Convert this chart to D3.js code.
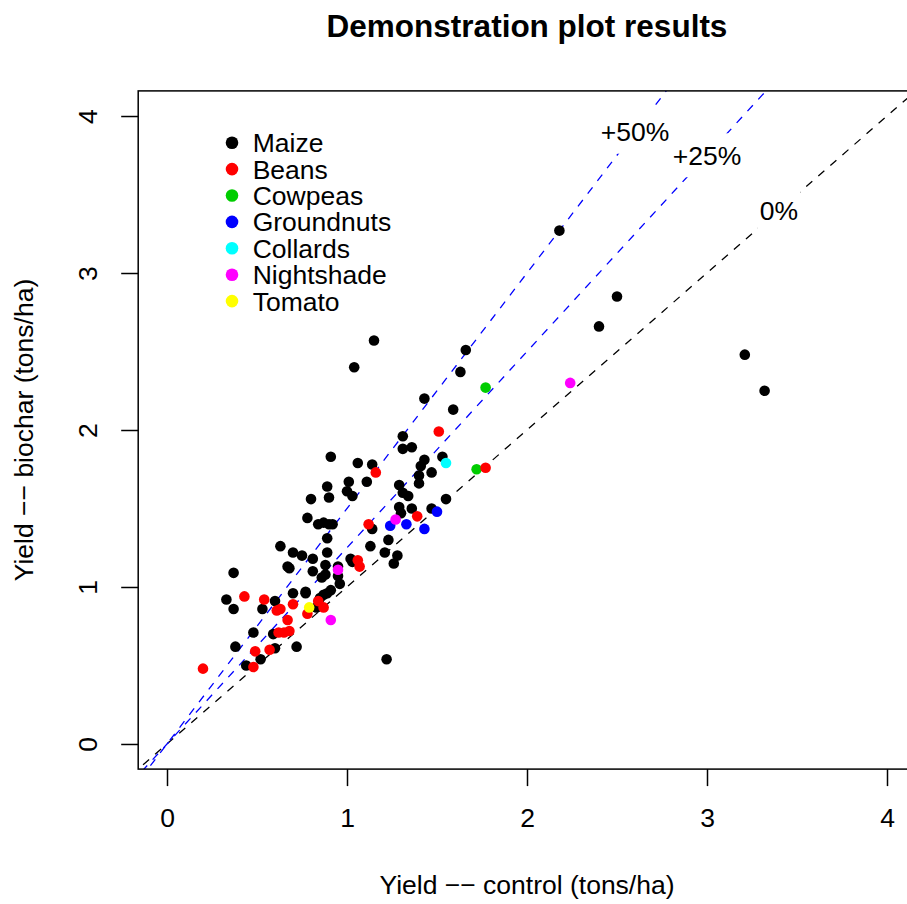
<!DOCTYPE html>
<html>
<head>
<meta charset="utf-8">
<script src="https://cdn.jsdelivr.net/npm/d3@7"></script>
<style>
  html, body { margin: 0; padding: 0; background: #fff; }
  svg { display: block; font-family: "Liberation Sans", Arial, Helvetica, sans-serif; }
</style>
</head>
<body>
<svg id="chart" width="907" height="904"></svg>
<script>
// Crop groups, legend order and colours
const crops = ["Maize", "Beans", "Cowpeas", "Groundnuts", "Collards", "Nightshade", "Tomato"];
const cropColors = ["#000000", "#ff0000", "#00cd00", "#0000ff", "#00ffff", "#ff00ff", "#ffff00"];

// Yield pairs [control, biochar] in tons/ha for each crop
const maize = [
  [2.18, 3.27], [2.50, 2.85], [2.40, 2.66], [3.21, 2.48], [3.32, 2.25],
  [1.15, 2.57], [1.04, 2.40], [1.66, 2.51], [1.63, 2.37], [1.43, 2.20],
  [1.59, 2.13], [1.31, 1.96], [1.31, 1.88], [1.36, 1.89], [1.53, 1.83],
  [1.43, 1.81], [1.41, 1.77], [1.47, 1.73], [1.40, 1.71], [1.40, 1.66],
  [1.14, 1.78], [1.06, 1.79], [1.11, 1.67], [1.29, 1.65], [1.31, 1.60],
  [1.34, 1.58], [1.55, 1.56], [1.29, 1.51], [1.30, 1.47], [1.36, 1.50],
  [1.47, 1.50], [1.14, 1.37], [1.23, 1.30], [1.13, 1.26], [1.21, 1.22],
  [1.28, 1.20], [1.26, 1.15], [0.91, 1.83], [1.01, 1.67], [0.89, 1.64],
  [1.00, 1.61], [1.03, 1.58], [0.90, 1.57], [0.80, 1.56], [0.78, 1.44],
  [0.87, 1.41], [0.84, 1.40], [0.90, 1.40], [0.92, 1.40], [0.89, 1.31],
  [0.63, 1.26], [0.70, 1.22], [0.75, 1.20], [0.89, 1.22], [0.67, 1.13],
  [0.68, 1.12], [0.81, 1.18], [0.88, 1.14], [0.95, 1.13], [1.02, 1.18],
  [1.03, 1.16], [0.81, 1.10], [0.88, 1.08], [0.95, 1.07], [0.96, 1.02],
  [0.86, 1.06], [0.37, 1.09], [0.77, 0.97], [0.33, 0.92], [0.37, 0.86],
  [0.53, 0.86], [0.60, 0.91], [0.70, 0.96], [0.77, 0.96], [0.83, 0.87],
  [0.87, 0.95], [0.91, 0.98], [0.85, 0.93], [0.89, 0.96], [0.48, 0.71],
  [0.59, 0.70], [0.38, 0.62], [0.60, 0.61], [0.72, 0.62], [0.52, 0.54],
  [0.44, 0.50], [1.22, 0.54]
];
const beans = [
  [1.51, 1.99], [1.16, 1.73], [1.39, 1.45], [1.12, 1.40], [1.06, 1.17],
  [1.07, 1.13], [0.43, 0.94], [0.54, 0.92], [0.61, 0.85], [0.63, 0.86],
  [0.70, 0.89], [0.78, 0.83], [0.67, 0.79], [0.62, 0.71], [0.65, 0.71],
  [0.68, 0.72], [0.49, 0.59], [0.57, 0.60], [0.48, 0.49], [0.20, 0.48],
  [0.87, 0.87], [0.84, 0.91]
];
const cowpeas = [[1.77, 2.27], [1.72, 1.75]];
const beansLate = [[1.77, 1.76]];
const groundnuts = [[1.50, 1.48], [1.24, 1.39], [1.33, 1.40], [1.43, 1.37]];
const collards = [[1.55, 1.79]];
const nightshade = [[2.24, 2.30], [1.27, 1.43], [0.95, 1.11], [0.91, 0.79]];
const tomato = [[0.79, 0.87]];

// Reference lines: slope and label
const refSlopes = [1, 1.25, 1.5];
const refLabels = ["0%", "+25%", "+50%"];
const refLabelPos = [[3.4, 3.4], [3.0, 3.75], [2.6, 3.9]];
const refColors = ["#000000", "#0000ff", "#0000ff"];

const tickValues = [0, 1, 2, 3, 4];

// Points in drawing order with their colour index
const series = [
  [maize, 0], [beans, 1], [cowpeas, 2], [beansLate, 1],
  [groundnuts, 3], [collards, 4], [nightshade, 5], [tomato, 6]
];

const svg = d3.select("#chart");
const plot = { left: 138.2, right: 915.8, top: 90.9, bottom: 769.1 };
const FS = 26.5;

const x = d3.scaleLinear().domain([-0.16, 4.16]).range([plot.left, plot.right]);
const y = d3.scaleLinear().domain([-0.16, 4.16]).range([plot.bottom, plot.top]);

svg.append("defs").append("clipPath").attr("id", "plotclip")
  .append("rect")
  .attr("x", plot.left).attr("y", plot.top)
  .attr("width", plot.right - plot.left).attr("height", plot.bottom - plot.top);

// Title
svg.append("text")
  .attr("x", (plot.left + plot.right) / 2).attr("y", 37)
  .attr("text-anchor", "middle")
  .attr("font-weight", "bold").attr("font-size", 31.5)
  .text("Demonstration plot results");

// Axes
const xAxis = svg.append("g")
  .attr("transform", `translate(0,${plot.bottom})`)
  .call(d3.axisBottom(x).tickValues(tickValues).tickSize(17).tickPadding(22).tickFormat(d3.format("d")));
xAxis.select(".domain").remove();
xAxis.selectAll("line").attr("stroke", "#000").attr("stroke-width", 1.5);
xAxis.selectAll("text").attr("font-size", FS).attr("font-family", null).attr("fill", "#000");

const yAxis = svg.append("g")
  .attr("transform", `translate(${plot.left},0)`)
  .call(d3.axisLeft(y).tickValues(tickValues).tickSize(17).tickFormat(d3.format("d")));
yAxis.select(".domain").remove();
yAxis.selectAll("line").attr("stroke", "#000").attr("stroke-width", 1.5);
yAxis.selectAll("text")
  .attr("x", null).attr("dy", null)
  .attr("transform", "translate(-41,0) rotate(-90)")
  .attr("text-anchor", "middle")
  .attr("font-size", FS).attr("font-family", null).attr("fill", "#000");

// Axis titles (the dashes are set as minus signs, as R's device prints them)
svg.append("text")
  .attr("x", (plot.left + plot.right) / 2).attr("y", 894)
  .attr("text-anchor", "middle").attr("font-size", FS)
  .text("Yield \u2212\u2212 control (tons/ha)");
svg.append("text")
  .attr("transform", `translate(33,${(plot.top + plot.bottom) / 2}) rotate(-90)`)
  .attr("text-anchor", "middle").attr("font-size", FS)
  .text("Yield \u2212\u2212 biochar (tons/ha)");

// Dashed reference lines
const clipped = svg.append("g").attr("clip-path", "url(#plotclip)");
const line = d3.line().x(d => x(d[0])).y(d => y(d[1]));
refSlopes.forEach((m, i) => {
  clipped.append("path")
    .attr("d", line([[-0.2, -0.2 * m], [4.2, 4.2 * m]]))
    .attr("fill", "none")
    .attr("stroke", refColors[i])
    .attr("stroke-width", 1.3)
    .attr("stroke-dasharray", "8,8");
});

// Line labels on white boxes
refLabels.forEach((lab, i) => {
  const g = clipped.append("g");
  const t = g.append("text")
    .attr("x", x(refLabelPos[i][0])).attr("y", y(refLabelPos[i][1]))
    .attr("dy", "0.36em")
    .attr("text-anchor", "middle").attr("font-size", FS)
    .text(lab);
  const bb = t.node().getBBox();
  const cy = y(refLabelPos[i][1]);
  g.insert("rect", "text")
    .attr("x", bb.x - 2).attr("width", bb.width + 4)
    .attr("y", cy - 22).attr("height", 44)
    .attr("fill", "#fff");
});

// Data points
const pts = svg.append("g").attr("clip-path", "url(#plotclip)");
series.forEach(([data, ci]) => {
  pts.selectAll(null).data(data).enter().append("circle")
    .attr("cx", d => x(d[0])).attr("cy", d => y(d[1]))
    .attr("r", 5.3)
    .attr("fill", cropColors[ci]);
});

// Legend
const legend = svg.append("g");
crops.forEach((c, i) => {
  const ly = 142.7 + i * 26.4;
  legend.append("circle").attr("cx", 232).attr("cy", ly).attr("r", 6.3).attr("fill", cropColors[i]);
  legend.append("text").attr("x", 252.7).attr("y", ly).attr("dy", "0.36em")
    .attr("font-size", FS).text(c);
});

// Plot frame
svg.append("rect")
  .attr("x", plot.left).attr("y", plot.top)
  .attr("width", plot.right - plot.left).attr("height", plot.bottom - plot.top)
  .attr("fill", "none").attr("stroke", "#000").attr("stroke-width", 1.5);
</script>
</body>
</html>
